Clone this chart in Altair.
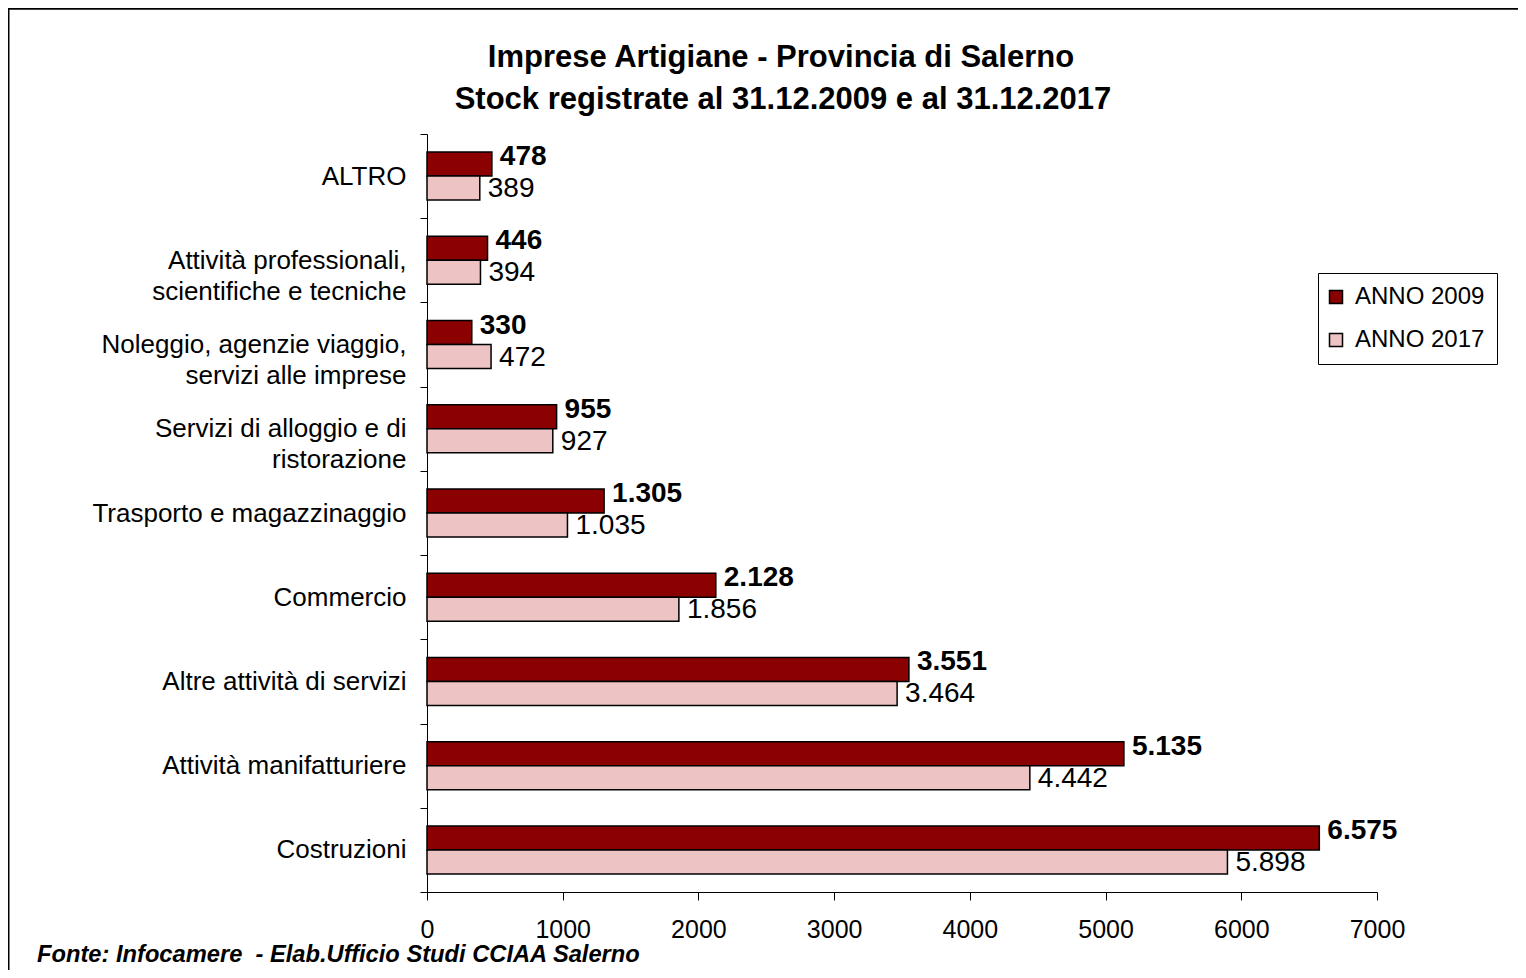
import altair as alt
import pandas as pd

categories = [
    "ALTRO",
    "Attività professionali,\nscientifiche e tecniche",
    "Noleggio, agenzie viaggio,\nservizi alle imprese",
    "Servizi di alloggio e di\nristorazione",
    "Trasporto e magazzinaggio\u00a0",
    "Commercio\u00a0",
    "Altre attività di servizi",
    "Attività manifatturiere",
    "Costruzioni",
]
values_2009 = [478, 446, 330, 955, 1305, 2128, 3551, 5135, 6575]
values_2017 = [389, 394, 472, 927, 1035, 1856, 3464, 4442, 5898]
series = ["ANNO 2009", "ANNO 2017"]
series_colors = ["#8B0000", "#EDC3C3"]
x_ticks = [0, 1000, 2000, 3000, 4000, 5000, 6000, 7000]

title_lines = ["Imprese Artigiane - Provincia di Salerno",
               "Stock registrate al 31.12.2009 e al 31.12.2017"]
footer = "Fonte: Infocamere \u00a0- Elab.Ufficio Studi CCIAA Salerno"

FONT = "Liberation Sans"


def it_fmt(v):
    return f"{v:,}".replace(",", ".")


rows = []
for c, v1, v2 in zip(categories, values_2009, values_2017):
    rows.append({"category": c, "series": series[0], "value": v1, "label": it_fmt(v1)})
    rows.append({"category": c, "series": series[1], "value": v2, "label": it_fmt(v2)})
df = pd.DataFrame(rows)

y_enc = alt.Y(
    "category:N",
    sort=categories,
    scale=alt.Scale(domain=categories, paddingInner=0, paddingOuter=0),
    axis=alt.Axis(
        title=None,
        labelExpr="split(datum.label, '\\n')",
        labelFont=FONT,
        labelFontSize=26,
        labelLineHeight=31,
        labelColor="black",
        labelLimit=500,
        labelPadding=14,
        tickBand="extent",
        tickSize=7,
        tickColor="black",
        domainColor="black",
        grid=False,
    ),
)
yoff_enc = alt.YOffset(
    "series:N", sort=series,
    scale=alt.Scale(domain=series, paddingInner=0, paddingOuter=0.754),
)
x_enc = alt.X(
    "value:Q",
    scale=alt.Scale(domain=[0, 7000], nice=False),
    axis=alt.Axis(
        title=None,
        values=x_ticks,
        format="d",
        grid=False,
        labelFlush=False,
        labelFont=FONT,
        labelFontSize=25,
        labelColor="black",
        labelPadding=17,
        tickSize=8,
        tickColor="black",
        domainColor="black",
    ),
)

base = alt.Chart(df)

bars = base.mark_bar(stroke="black", strokeWidth=1.5).encode(
    y=y_enc,
    yOffset=yoff_enc,
    x=x_enc,
    color=alt.Color(
        "series:N",
        scale=alt.Scale(domain=series, range=series_colors),
        legend=alt.Legend(
            title=None,
            orient="none",
            legendX=891,
            legendY=139,
            fillColor="white",
            strokeColor="black",
            padding=12,
            labelFont=FONT,
            labelFontSize=24,
            labelColor="black",
            labelOffset=7,
            rowPadding=19,
            symbolType="square",
            symbolSize=169,
            symbolOffset=-6,
            symbolStrokeColor="black",
            symbolStrokeWidth=1.5,
            symbolOpacity=1,
        ),
    ),
)

lab09 = base.transform_filter(alt.datum.series == series[0]).mark_text(
    align="left", baseline="middle", dx=8, dy=-7,
    font=FONT, fontSize=28, fontWeight="bold", color="black",
).encode(y=alt.Y("category:N", sort=categories), yOffset=alt.YOffset("series:N", sort=series),
         x=alt.X("value:Q"), text="label:N")

lab17 = base.transform_filter(alt.datum.series == series[1]).mark_text(
    align="left", baseline="middle", dx=8, dy=1,
    font=FONT, fontSize=28, color="black",
).encode(y=alt.Y("category:N", sort=categories), yOffset=alt.YOffset("series:N", sort=series),
         x=alt.X("value:Q"), text="label:N")

one = pd.DataFrame({"t": [0]})

title1 = alt.Chart(one).mark_text(
    align="center", baseline="middle", font=FONT, fontSize=31, fontWeight="bold", color="black"
).encode(x=alt.value(354), y=alt.value(-76), text=alt.value(title_lines[0]))

title2 = alt.Chart(one).mark_text(
    align="center", baseline="middle", font=FONT, fontSize=31, fontWeight="bold", color="black"
).encode(x=alt.value(356), y=alt.value(-34), text=alt.value(title_lines[1]))

foot = alt.Chart(one).mark_text(
    align="left", baseline="middle", font=FONT, fontSize=23.7, fontWeight="bold",
    fontStyle="italic", color="black"
).encode(x=alt.value(-390), y=alt.value(821), text=alt.value(footer))

border_left = alt.Chart(one).mark_rule(color="black", strokeWidth=2).encode(
    x=alt.value(-418.5), y=alt.value(-127), y2=alt.value(840)
)
border_top = alt.Chart(one).mark_rule(color="black", strokeWidth=2).encode(
    y=alt.value(-125.3), x=alt.value(-420), x2=alt.value(1100)
)

chart = alt.layer(
    bars, lab09, lab17, title1, title2, foot, border_left, border_top
).properties(
    width=950,
    height=758,
    padding={"left": 419, "top": 126, "right": 141, "bottom": 78},
    autosize=alt.AutoSizeParams(type="none"),
).configure(background="white").configure_view(stroke=None)

chart.save("out.html", embed_options={"renderer": "svg", "actions": False})
